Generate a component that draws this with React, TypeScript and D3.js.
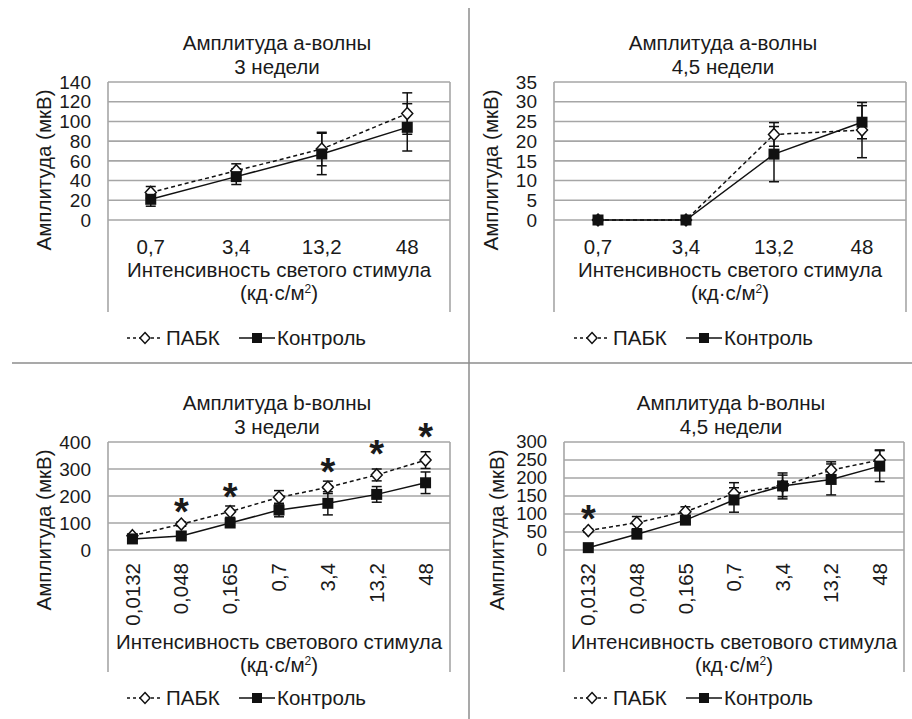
import React, { useEffect, useRef } from 'react'
import * as d3 from 'd3'

// categories (light intensity, cd*s/m2)
const catsA = ['0,7', '3,4', '13,2', '48']
const catsB = ['0,0132', '0,048', '0,165', '0,7', '3,4', '13,2', '48']

// a-wave, 3 weeks
const a3Pabk = [28, 50, 72, 108]
const a3PabkErr = [6, 7, 17, 21]
const a3Ctrl = [21, 44, 67, 94]
const a3CtrlErr = [7, 8, 21, 24]

// a-wave, 4.5 weeks
const a45Pabk = [0, 0, 21.7, 22.8]
const a45PabkErr = [0, 0, 3, 7]
const a45Ctrl = [0, 0, 16.7, 24.8]
const a45CtrlErr = [0, 0, 7, 4.2]

// b-wave, 3 weeks
const b3Pabk = [53, 96, 142, 195, 232, 278, 333]
const b3PabkErr = [6, 8, 21, 25, 23, 22, 31]
const b3Ctrl = [41, 52, 100, 148, 173, 206, 249]
const b3CtrlErr = [5, 5, 8, 25, 43, 29, 40]
const b3Stars = [null, 174, 230, null, 322, 389, 452]

// b-wave, 4.5 weeks
const b45Pabk = [54, 76, 106, 157, 178, 222, 250]
const b45PabkErr = [5, 17, 14, 30, 30, 23, 28]
const b45Ctrl = [6.5, 44, 83, 139, 178, 196, 233]
const b45CtrlErr = [3, 4, 5, 34, 36, 43, 43]
const b45Stars = [111, null, null, null, null, null, null]

const yTitle = 'Амплитуда (мкВ)'
const xTitle1A = 'Интенсивность светого стимула'
const xTitle1B = 'Интенсивность светового стимула'

const FONT = '"Liberation Sans", Arial, sans-serif'
const GRID = '#a6a6a6'
const FS = '20.5px'

function drawPanel (svg, o) {
	const g = svg.append('g')
	const x = d3.scalePoint().domain(o.cats).range([o.left, o.right]).padding(0.5)
	const y = d3.scaleLinear().domain([0, o.max]).range([o.bottom, o.top])
	const ticks = d3.range(0, o.max + o.step / 2, o.step)

	// titles
	g.append('text').attr('x', o.tx).attr('y', o.titleY).attr('text-anchor', 'middle')
		.style('font-size', FS).text(o.title1)
	g.append('text').attr('x', o.tx).attr('y', o.titleY + 24).attr('text-anchor', 'middle')
		.style('font-size', FS).text(o.title2)

	// gridlines + frame
	g.selectAll('line.grid').data(ticks).enter().append('line')
		.attr('x1', o.left).attr('x2', o.right)
		.attr('y1', d => y(d)).attr('y2', d => y(d))
		.attr('stroke', GRID).attr('stroke-width', 1.6)
	g.selectAll('line.side').data([o.left, o.right]).enter().append('line')
		.attr('x1', d => d).attr('x2', d => d)
		.attr('y1', o.top).attr('y2', o.frameBottom)
		.attr('stroke', GRID).attr('stroke-width', 1.6)

	// y tick labels
	g.selectAll('text.yt').data(ticks).enter().append('text')
		.attr('x', o.left - 17).attr('y', d => y(d)).attr('dy', '0.35em')
		.attr('text-anchor', 'end').style('font-size', o.yFs || '19px')
		.text(d => d)

	g.append('text')
		.attr('transform', `translate(${o.yTitleX}, ${(o.top + o.bottom) / 2 + o.yTitleDy}) rotate(-90)`)
		.attr('text-anchor', 'middle').attr('dy', '0.35em')
		.style('font-size', FS).text(yTitle)

	// x tick labels
	if (o.rotated) {
		g.selectAll('text.xt').data(o.cats).enter().append('text')
			.attr('transform', d => `translate(${x(d)}, ${o.bottom + 13}) rotate(-90)`)
			.attr('text-anchor', 'end').attr('dy', '0.35em')
			.style('font-size', FS).text(d => d)
	} else {
		g.selectAll('text.xt').data(o.cats).enter().append('text')
			.attr('x', d => x(d)).attr('y', o.bottom + 34)
			.attr('text-anchor', 'middle').style('font-size', FS).text(d => d)
	}

	const cx = (o.left + o.right) / 2
	g.append('text').attr('x', cx).attr('y', o.xTitleY).attr('text-anchor', 'middle')
		.style('font-size', FS).text(o.xTitle)
	const unit = g.append('text').attr('x', cx).attr('y', o.xTitleY + 23).attr('text-anchor', 'middle')
		.style('font-size', FS)
	unit.append('tspan').text('(кд·с/м')
	unit.append('tspan').attr('dy', -7).style('font-size', '12px').text('2')
	unit.append('tspan').attr('dy', 7).text(')')

	const series = [
		{ vals: o.pabk, err: o.pabkErr, dash: '4,3', marker: 'diamond' },
		{ vals: o.ctrl, err: o.ctrlErr, dash: null, marker: 'square' }
	]

	const line = d3.line().x((d, i) => x(o.cats[i])).y(d => y(d))

	series.forEach(s => {
		g.append('path').datum(s.vals)
			.attr('d', line).attr('fill', 'none').attr('stroke', '#111')
			.attr('stroke-width', 1.5).attr('stroke-dasharray', s.dash)
	})

	series.forEach(s => {
		const eg = g.append('g')
		s.vals.forEach((v, i) => {
			if (!s.err[i]) return
			const px = x(o.cats[i])
			const y0 = y(v - s.err[i])
			const y1 = y(v + s.err[i])
			eg.append('line').attr('x1', px).attr('x2', px).attr('y1', y0).attr('y2', y1)
				.attr('stroke', '#111').attr('stroke-width', 1.5)
			;[y0, y1].forEach(yy => {
				eg.append('line').attr('x1', px - 5).attr('x2', px + 5).attr('y1', yy).attr('y2', yy)
					.attr('stroke', '#111').attr('stroke-width', 1.5)
			})
		})
	})

	series.forEach(s => {
		s.vals.forEach((v, i) => {
			const px = x(o.cats[i])
			const py = y(v)
			if (s.marker === 'diamond') {
				g.append('path')
					.attr('d', `M${px},${py - 6}L${px + 5.5},${py}L${px},${py + 6}L${px - 5.5},${py}Z`)
					.attr('fill', '#fff').attr('stroke', '#111').attr('stroke-width', 1.5)
			} else {
				g.append('rect').attr('x', px - 5.5).attr('y', py - 5.5)
					.attr('width', 11).attr('height', 11).attr('fill', '#111')
			}
		})
	})

	if (o.stars) {
		o.stars.forEach((v, i) => {
			if (v == null) return
			g.append('text').attr('x', x(o.cats[i])).attr('y', y(v) + 22)
				.attr('text-anchor', 'middle').style('font-size', '38px')
				.style('font-weight', 'bold').text('*')
		})
	}

	// legend
	const lg = g.append('g').attr('transform', `translate(${o.legX}, ${o.legY})`)
	lg.append('line').attr('x1', 0).attr('x2', 36).attr('y1', 0).attr('y2', 0)
		.attr('stroke', '#111').attr('stroke-width', 1.5).attr('stroke-dasharray', '3,3')
	lg.append('path').attr('d', 'M18,-5.5L23,0L18,5.5L13,0Z')
		.attr('fill', '#fff').attr('stroke', '#111').attr('stroke-width', 1.5)
	lg.append('text').attr('x', 39).attr('y', 0).attr('dy', '0.35em')
		.style('font-size', FS).text('ПАБК')
	lg.append('line').attr('x1', 112).attr('x2', 148).attr('y1', 0).attr('y2', 0)
		.attr('stroke', '#111').attr('stroke-width', 1.5)
	lg.append('rect').attr('x', 125).attr('y', -5).attr('width', 10).attr('height', 10).attr('fill', '#111')
	lg.append('text').attr('x', 150).attr('y', 0).attr('dy', '0.35em')
		.style('font-size', FS).text('Контроль')
}

export default function App () {
	const ref = useRef(null)

	useEffect(() => {
		const svg = d3.select(ref.current)
		svg.selectAll('*').remove()
		svg.style('font-family', FONT).style('fill', '#1a1a1a')

		// separators
		svg.append('line').attr('x1', 12).attr('x2', 912).attr('y1', 363).attr('y2', 363)
			.attr('stroke', '#8c8c8c').attr('stroke-width', 1.5)
		svg.append('line').attr('x1', 469).attr('x2', 469).attr('y1', 8).attr('y2', 719)
			.attr('stroke', '#8c8c8c').attr('stroke-width', 1.5)

		drawPanel(svg, {
			cats: catsA, pabk: a3Pabk, pabkErr: a3PabkErr, ctrl: a3Ctrl, ctrlErr: a3CtrlErr,
			left: 108, right: 450, top: 82, bottom: 220, frameBottom: 312, max: 140, step: 20,
			title1: 'Амплитуда а-волны', title2: '3 недели', tx: 277, titleY: 50,
			yTitleX: 44, yTitleDy: 19, xTitle: xTitle1A, xTitleY: 277, legX: 127, legY: 338
		})
		drawPanel(svg, {
			cats: catsA, pabk: a45Pabk, pabkErr: a45PabkErr, ctrl: a45Ctrl, ctrlErr: a45CtrlErr,
			left: 554, right: 906, top: 82, bottom: 220, frameBottom: 312, max: 35, step: 5,
			title1: 'Амплитуда а-волны', title2: '4,5 недели', tx: 723, titleY: 50,
			yTitleX: 491, yTitleDy: 19, xTitle: xTitle1A, xTitleY: 277, legX: 574, legY: 338
		})
		drawPanel(svg, {
			cats: catsB, pabk: b3Pabk, pabkErr: b3PabkErr, ctrl: b3Ctrl, ctrlErr: b3CtrlErr, stars: b3Stars,
			left: 108, right: 450, top: 442, bottom: 550, frameBottom: 672, max: 400, step: 100,
			title1: 'Амплитуда b-волны', title2: '3 недели', tx: 277, titleY: 410, rotated: true,
			yTitleX: 44, yTitleDy: 34, xTitle: xTitle1B, xTitleY: 649, legX: 127, legY: 698
		})
		drawPanel(svg, {
			cats: catsB, pabk: b45Pabk, pabkErr: b45PabkErr, ctrl: b45Ctrl, ctrlErr: b45CtrlErr, stars: b45Stars,
			left: 564, right: 904, top: 442, bottom: 550, frameBottom: 672, max: 300, step: 50,
			title1: 'Амплитуда b-волны', title2: '4,5 недели', tx: 731, titleY: 410, rotated: true, yFs: '18.5px',
			yTitleX: 497, yTitleDy: 34, xTitle: xTitle1B, xTitleY: 649, legX: 574, legY: 698
		})
	}, [])

	return (
		<div style={{ position: 'absolute', left: 0, top: 0, background: '#fff' }}>
			<svg ref={ref} width={912} height={719} />
		</div>
	)
}
